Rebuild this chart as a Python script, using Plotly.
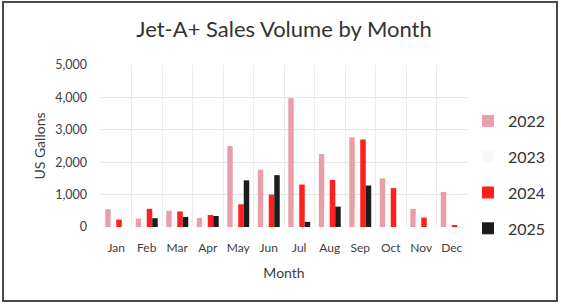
import plotly.graph_objects as go

months = ["Jan", "Feb", "Mar", "Apr", "May", "Jun", "Jul", "Aug", "Sep", "Oct", "Nov", "Dec"]
sales_2022 = [550, 260, 500, 280, 2500, 1770, 3970, 2250, 2770, 1500, 560, 1080]
sales_2023 = [300, 300, 300, 300, 600, 600, 600, 600, 600, 300, 300, 100]
sales_2024 = [230, 560, 480, 370, 700, 1000, 1310, 1450, 2700, 1200, 290, 50]
sales_2025 = [None, 270, 310, 340, 1440, 1600, 160, 630, 1280, None, None, None]

series = [
    ("2022", sales_2022, "#e8a0a8"),
    ("2023", sales_2023, "#f9f9f9"),
    ("2024", sales_2024, "#ff1f1f"),
    ("2025", sales_2025, "#1c1c1c"),
]

fig = go.Figure()
for name, vals, color in series:
    fig.add_trace(go.Bar(
        x=months, y=vals, name=name, marker_color=color,
        marker_line_width=0, legendgroup=name,
    ))

font_family = "Lato, 'Open Sans', sans-serif"
PW, PH = 366, 162
fig.update_layout(
    width=561, height=305,
    margin=dict(l=101, r=94, t=65, b=78, autoexpand=False),
    paper_bgcolor="white", plot_bgcolor="white",
    barmode="group", bargap=0.28, bargroupgap=0,
    font=dict(family=font_family, color="#404040"),
    title=dict(text="Jet-A+ Sales Volume by Month", x=0.5, xref="paper", xanchor="center",
               y=1 - 29 / 305, yref="container", yanchor="middle",
               font=dict(size=22, color="#333333", family=font_family)),
    xaxis=dict(
        type="category", tickson="boundaries", showgrid=True, gridcolor="#ececec",
        ticks="", tickangle=0, tickfont=dict(size=12, color="#404040"), ticklabelstandoff=12,
        title=dict(text="Month", font=dict(size=14, color="#404040"), standoff=14),
        showline=False, zeroline=False, automargin=False,
    ),
    yaxis=dict(
        range=[0, 5000], dtick=1000, tickformat=",", showgrid=True, gridcolor="#e6e6e6",
        tickfont=dict(size=12.5, color="#404040"), zeroline=False, ticklabelstandoff=13,
        title=dict(text="US Gallons", font=dict(size=14, color="#404040"), standoff=6),
        automargin=False,
    ),
    legend=dict(
        x=(468 - 101) / PW, y=(227 - 104) / PH, xanchor="left", yanchor="top",
        font=dict(size=16, color="#333333"), tracegroupgap=12,
        itemwidth=30, bgcolor="rgba(0,0,0,0)",
    ),
    showlegend=True,
)

# outer chart frame
fig.add_shape(type="rect", xref="paper", yref="paper",
              x0=(3 - 101) / PW, x1=(557 - 101) / PW, y0=-(301 - 227) / PH, y1=(227 - 2) / PH,
              line=dict(color="#4a4a4a", width=2), fillcolor="rgba(0,0,0,0)", layer="below")

fig.write_html("out.html", config={"displayModeBar": False},
               post_script="document.body.style.margin='0';document.body.style.overflow='hidden';")
